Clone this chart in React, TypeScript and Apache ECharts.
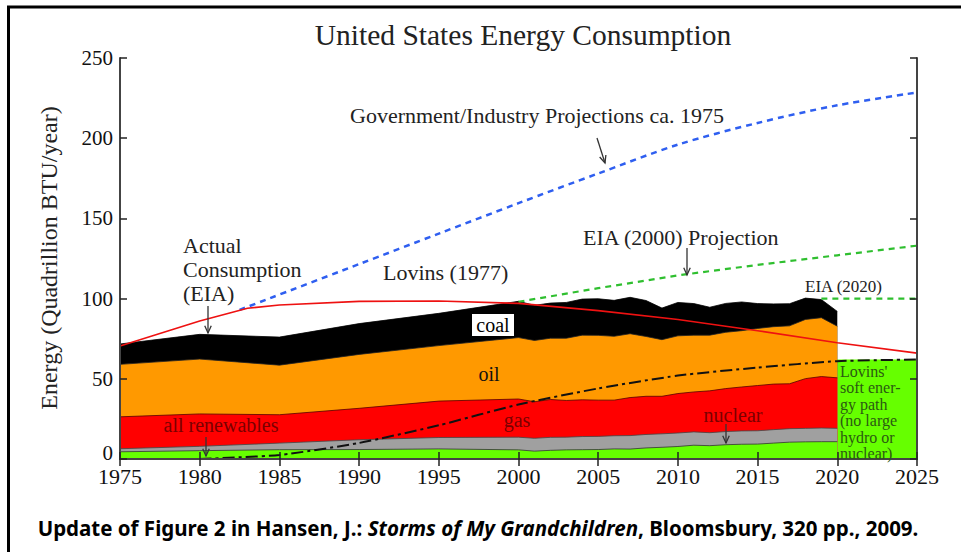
import React, { useEffect, useRef } from "react";
import * as echarts from "echarts";

// ---- data ----
const years = [1975, 1980, 1985, 1990, 1995, 2000, 2001, 2002, 2003, 2004, 2005, 2006, 2007, 2008, 2009, 2010, 2011, 2012, 2013, 2014, 2015, 2016, 2017, 2018, 2019, 2020];
const renewables = [4.5, 5.2, 5.8, 5.9, 6.3, 5.7, 4.9, 5.4, 5.7, 5.8, 5.9, 6.3, 6.2, 6.9, 7.3, 7.8, 8.6, 8.3, 8.9, 9.2, 9.3, 9.9, 10.5, 10.7, 10.8, 10.8];
const nuclear = [1.9, 2.7, 4.1, 6.1, 7.1, 7.9, 8.0, 8.1, 7.9, 8.2, 8.2, 8.2, 8.4, 8.4, 8.4, 8.4, 8.3, 8.1, 8.2, 8.3, 8.3, 8.4, 8.4, 8.4, 8.5, 8.3];
const gas = [19.9, 20.2, 17.7, 19.6, 22.7, 23.8, 22.8, 23.6, 22.9, 22.9, 22.6, 22.2, 23.7, 23.8, 23.4, 24.6, 24.9, 26.1, 26.8, 27.4, 28.2, 28.4, 28.0, 31.0, 32.1, 31.5];
const oil = [32.7, 34.2, 30.9, 33.6, 34.6, 38.3, 38.2, 38.2, 38.8, 40.3, 40.4, 39.8, 39.8, 37.3, 35.3, 36.0, 35.4, 34.7, 35.1, 35.1, 35.6, 35.8, 36.1, 36.9, 36.7, 32.2];
const coal = [12.7, 15.4, 17.5, 19.2, 20.1, 22.6, 21.9, 21.9, 22.3, 22.5, 22.8, 22.4, 22.7, 22.4, 19.7, 20.8, 19.7, 17.4, 18.0, 17.9, 15.5, 14.2, 13.8, 13.3, 11.3, 9.2];

const lovinsYears = [1975, 1980, 1983, 1985, 1990, 1995, 2000, 2005, 2010, 2015, 2020, 2025];
const lovins1977 = [70.5, 86, 94, 96, 98.3, 98.5, 97, 92.5, 87, 80, 72.5, 66];

const govYears = [1982.5, 1990, 1995, 2000, 2005, 2010, 2015, 2020, 2025];
const govProjection = [93, 121.5, 140.5, 159.5, 178, 196, 209.5, 220.5, 228.5];

const eia2000Years = [2000, 2005, 2010, 2015, 2020, 2025];
const eia2000 = [98, 106.5, 114.5, 121, 127, 133];

const eia2020Years = [2019, 2025];
const eia2020 = [100, 100];

const softYears = [1980, 1985, 1990, 1995, 2000, 2005, 2010, 2015, 2020, 2025];
const softPath = [0, 2.5, 10, 21, 34, 44, 52, 57, 61, 62];

const softBoxYears = [2020, 2025];
const softBoxTop = 62;

const xTicks = [1975, 1980, 1985, 1990, 1995, 2000, 2005, 2010, 2015, 2020, 2025];
const yTicks = [0, 50, 100, 150, 200, 250];

const SERIF = "'Liberation Serif', 'Times New Roman', 'DejaVu Serif', serif";

function pairs(xs: number[], ys: number[]) {
  return xs.map((x, i) => [x, ys[i]]);
}

// cumulative top of each layer (bottom to top)
function cumulative(layers: number[][]) {
  const out: number[][] = [];
  let acc = years.map(() => 0);
  for (const l of layers) {
    acc = acc.map((a, i) => Math.round((a + l[i]) * 100) / 100);
    out.push(acc.slice());
  }
  return out;
}

function arrow(x1: number, y1: number, x2: number, y2: number) {
  const ang = Math.atan2(y2 - y1, x2 - x1);
  const L = 8;
  const w = 0.42;
  const p1 = [x2 - L * Math.cos(ang - w), y2 - L * Math.sin(ang - w)];
  const p2 = [x2 - L * Math.cos(ang + w), y2 - L * Math.sin(ang + w)];
  const st = { stroke: "#333", lineWidth: 1.3, fill: null };
  return [
    { type: "line", shape: { x1, y1, x2, y2 }, style: st, z: 100 },
    { type: "polyline", shape: { points: [p1, [x2, y2], p2] }, style: st, z: 100 },
  ];
}

function txt(text: string, x: number, y: number, extra: any = {}) {
  return {
    type: "text",
    x,
    y,
    z: 100,
    style: {
      text,
      fontFamily: SERIF,
      fontSize: 22,
      fill: "#222",
      textVerticalAlign: "middle",
      ...extra,
    },
  };
}

export default function App() {
  const ref = useRef<HTMLDivElement>(null);

  useEffect(() => {
    if (!ref.current) return;
    const chart = echarts.init(ref.current, undefined, { renderer: "svg" });

    const [renTop, nucTop, gasTop, oilTop, coalTop] = cumulative([renewables, nuclear, gas, oil, coal]);

    const areaSeries = (name: string, data: number[], color: string, line: string, z: number) => ({
      name,
      type: "line",
      data: pairs(years, data),
      symbol: "none",
      z,
      lineStyle: { width: 0.8, color: line },
      areaStyle: { color, opacity: 1 },
    });

    const axisCommon = {
      type: "value",
      axisLine: { show: true, lineStyle: { color: "#444", width: 2 } },
      axisTick: { show: true, inside: true, length: 7, lineStyle: { color: "#222", width: 1.5 } },
      splitLine: { show: false },
      z: 10,
    };

    const option: any = {
      animation: false,
      backgroundColor: "#ffffff",
      title: {
        text: "United States Energy Consumption",
        left: 518,
        top: 15,
        textAlign: "center",
        textStyle: { fontFamily: SERIF, fontSize: 29.5, fontWeight: "normal", color: "#222" },
      },
      grid: { left: 120, top: 58, width: 797, height: 401 },
      xAxis: [
        {
          ...axisCommon,
          position: "bottom",
          min: xTicks[0],
          max: xTicks[xTicks.length - 1],
          interval: 5,
          axisLabel: {
            fontFamily: SERIF,
            fontSize: 22,
            lineHeight: 16,
            color: "#111",
            margin: 9,
            formatter: (v: number) => String(v),
          },
        },
        {
          ...axisCommon,
          position: "top",
          min: xTicks[0],
          max: xTicks[xTicks.length - 1],
          interval: 5,
          axisLabel: { show: false },
        },
      ],
      yAxis: [
        {
          ...axisCommon,
          position: "left",
          min: yTicks[0],
          max: yTicks[yTicks.length - 1],
          interval: 50,
          axisLabel: {
            fontFamily: SERIF,
            fontSize: 21,
            lineHeight: 15,
            color: "#111",
            margin: 7,
            formatter: (v: number) => (v === 0 ? "{z|0}" : String(v)),
            rich: {
              z: { fontFamily: SERIF, fontSize: 21, lineHeight: 15, color: "#111", padding: [0, 0, 12, 0] },
            },
          },
        },
        {
          ...axisCommon,
          position: "right",
          min: yTicks[0],
          max: yTicks[yTicks.length - 1],
          interval: 50,
          axisLabel: { show: false },
        },
      ],
      series: [
        areaSeries("coal", coalTop, "#000000", "#000", 1),
        areaSeries("oil", oilTop, "#ff9900", "#222", 2),
        areaSeries("gas", gasTop, "#ff0000", "#500", 3),
        areaSeries("nuclear", nucTop, "#a0a0a0", "#444", 3.5),
        {
          ...areaSeries("renewables", renTop, "#66ff00", "#333", 4),
          markArea: {
            silent: true,
            itemStyle: { color: "#66ff00", opacity: 1 },
            data: [[{ coord: [softBoxYears[0], 0] }, { coord: [softBoxYears[1], softBoxTop] }]],
          },
        },
        {
          name: "Lovins (1977)",
          type: "line",
          data: pairs(lovinsYears, lovins1977),
          symbol: "none",
          z: 6,
          lineStyle: { color: "#ee1111", width: 1.6 },
        },
        {
          name: "Government/Industry Projections ca. 1975",
          type: "line",
          data: pairs(govYears, govProjection),
          symbol: "none",
          smooth: 0.3,
          z: 5,
          lineStyle: { color: "#2f5ff0", width: 2.5, type: [6, 5] },
        },
        {
          name: "EIA (2000) Projection",
          type: "line",
          data: pairs(eia2000Years, eia2000),
          symbol: "none",
          z: 5,
          lineStyle: { color: "#2fbf2f", width: 2.2, type: [6, 5] },
        },
        {
          name: "EIA (2020)",
          type: "line",
          data: pairs(eia2020Years, eia2020),
          symbol: "none",
          z: 5,
          lineStyle: { color: "#2fbf2f", width: 2.2, type: [6, 5] },
        },
        {
          name: "Lovins soft path",
          type: "line",
          data: pairs(softYears, softPath),
          symbol: "none",
          smooth: 0.2,
          z: 7,
          lineStyle: { color: "#111", width: 2, type: [12, 4, 3, 4] },
        },
      ],
      graphic: [
        // frame
        { type: "line", shape: { x1: 8.5, y1: 6, x2: 8.5, y2: 552 }, style: { stroke: "#000", lineWidth: 3 } },
        { type: "line", shape: { x1: 7, y1: 7, x2: 961, y2: 7 }, style: { stroke: "#000", lineWidth: 3 } },
        // y axis name
        {
          type: "text",
          x: 49,
          y: 258,
          rotation: Math.PI / 2,
          style: {
            text: "Energy (Quadrillion BTU/year)",
            fontFamily: SERIF,
            fontSize: 24,
            fill: "#222",
            textAlign: "center",
            textVerticalAlign: "middle",
          },
        },
        txt("Government/Industry Projections ca. 1975", 350, 115),
        {
          type: "text",
          x: 183,
          y: 233,
          z: 100,
          style: {
            text: "Actual\nConsumption\n(EIA)",
            fontFamily: SERIF,
            fontSize: 22,
            lineHeight: 24,
            fill: "#222",
            textVerticalAlign: "top",
          },
        },
        txt("Lovins (1977)", 383, 272),
        txt("EIA (2000) Projection", 583, 237),
        txt("EIA (2020)", 805, 286, { fontSize: 17 }),
        {
          type: "rect",
          z: 99,
          shape: { x: 472, y: 314, width: 42, height: 22 },
          style: { fill: "#ffffff" },
        },
        txt("coal", 493, 325, { fontSize: 20, textAlign: "center", fill: "#000" }),
        txt("oil", 489, 374, { fontSize: 20, textAlign: "center", fill: "#111" }),
        txt("gas", 517, 420, { fontSize: 20, textAlign: "center", fill: "#7a0000" }),
        txt("all renewables", 221, 425, { fontSize: 20, textAlign: "center", fill: "#7a0000" }),
        txt("nuclear", 733, 415, { fontSize: 20, textAlign: "center", fill: "#7a0000" }),
        {
          type: "text",
          x: 840,
          y: 363,
          z: 100,
          style: {
            text: "Lovins'\nsoft ener-\ngy path\n(no large\nhydro or\nnuclear)",
            fontFamily: SERIF,
            fontSize: 16,
            lineHeight: 16.5,
            fill: "#2b5a12",
            textVerticalAlign: "top",
          },
        },
        ...arrow(208, 306, 208, 333),
        ...arrow(597, 138, 605, 163),
        ...arrow(687, 248, 687, 275),
        ...arrow(206, 437, 206, 456),
        ...arrow(726, 424, 726, 443),
        {
          type: "text",
          x: 478,
          y: 528,
          style: {
            text: "Update of Figure 2 in Hansen, J.: {i|Storms of My Grandchildren}, Bloomsbury, 320 pp., 2009.",
            fontFamily: "'Noto Sans', sans-serif",
            fontWeight: "bold",
            fontSize: 20.5,
            fill: "#000",
            textAlign: "center",
            textVerticalAlign: "middle",
            rich: {
              i: { fontFamily: "'Noto Sans', sans-serif", fontWeight: "bold", fontStyle: "italic", fontSize: 20.5, fill: "#000" },
            },
          },
        },
      ],
    };

    chart.setOption(option);
    return () => chart.dispose();
  }, []);

  return (
    <div
      ref={ref}
      style={{ position: "fixed", left: 0, top: 0, width: 961, height: 552, background: "#fff" }}
    />
  );
}
